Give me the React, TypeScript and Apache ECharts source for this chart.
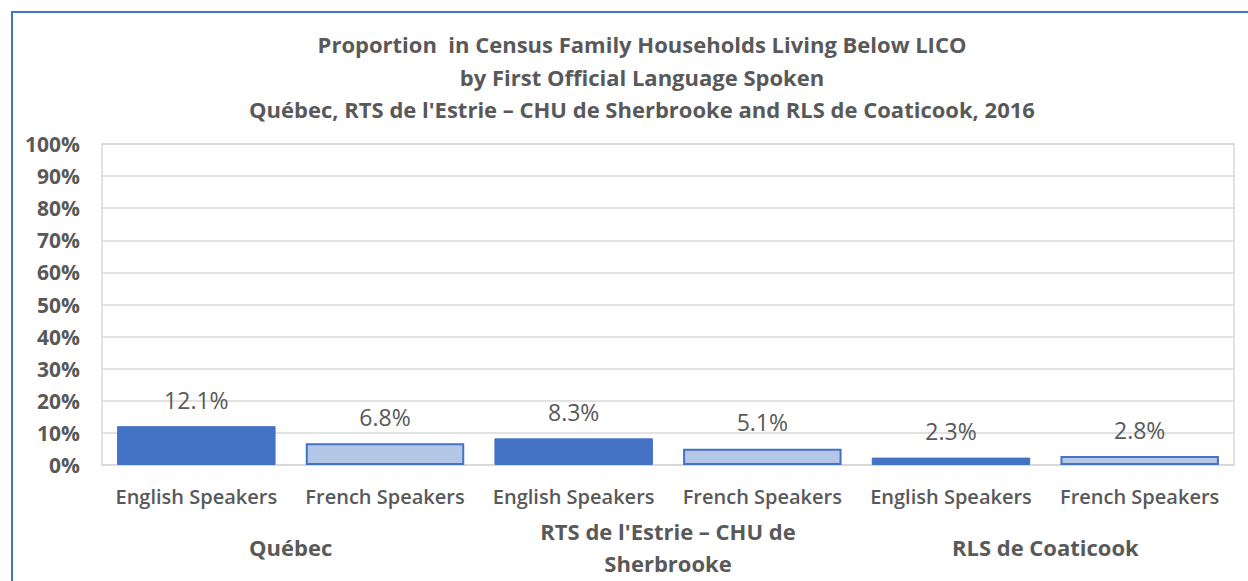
import React, { useEffect, useRef } from "react";
import * as echarts from "echarts";

const titleLines = [
  "Proportion  in Census Family Households Living Below LICO",
  "by First Official Language Spoken",
  "Québec, RTS de l'Estrie – CHU de Sherbrooke and RLS de Coaticook, 2016",
];
const regions = ["Québec", "RTS de l'Estrie – CHU de\nSherbrooke", "RLS de Coaticook"];
const languages = ["English Speakers", "French Speakers"];
const englishValues = [12.1, 8.3, 2.3];
const frenchValues = [6.8, 5.1, 2.8];
const yTicks = [0, 10, 20, 30, 40, 50, 60, 70, 80, 90, 100];

const FONT = "'Open Sans', sans-serif";
const GRAY = "#595959";

export default function App() {
  const ref = useRef<HTMLDivElement>(null);
  useEffect(() => {
    document.body.style.margin = "0";
    const chart = echarts.init(ref.current!, null, { renderer: "svg" });
    const cats: string[] = [];
    const data: any[] = [];
    regions.forEach((r, i) => {
      cats.push(languages[0]);
      data.push({
        value: englishValues[i],
        itemStyle: { color: "#4472C4", borderColor: "#4472C4", borderWidth: 1 },
      });
      cats.push(languages[1]);
      data.push({
        value: frenchValues[i],
        itemStyle: { color: "#B4C7E7", borderColor: "#4472C4", borderWidth: 2 },
      });
    });
    chart.setOption({
      animation: false,
      title: {
        text: titleLines.join("\n"),
        left: 637,
        top: 23,
        textAlign: "center",
        textStyle: {
          fontFamily: FONT,
          fontWeight: "bold",
          fontSize: 22,
          color: GRAY,
          lineHeight: 32.5,
        },
      },
      graphic: [
        {
          type: "rect",
          shape: { x: 12, y: 12, width: 1400, height: 700 },
          style: { fill: "none", stroke: "#4472C4", lineWidth: 2 },
          silent: true,
        },
      ],
      grid: {
        left: 102,
        right: 14,
        top: 144,
        bottom: 116,
        show: true,
        borderColor: "#D9D9D9",
        borderWidth: 1.5,
      },
      xAxis: [
        {
          type: "category",
          data: cats,
          position: "bottom",
          axisLine: { show: true, lineStyle: { color: "#D9D9D9", width: 1.5 } },
          axisTick: { show: false },
          axisLabel: {
            interval: 0,
            margin: 31,
            verticalAlign: "middle",
            fontFamily: FONT,
            fontSize: 20,
            color: GRAY,
            fontWeight: 600,
          },
        },
        {
          type: "category",
          data: regions,
          position: "bottom",
          axisLine: { show: false },
          axisTick: { show: false },
          axisLabel: {
            interval: 0,
            margin: 82,
            verticalAlign: "middle",
            fontFamily: FONT,
            fontSize: 22,
            fontWeight: "bold",
            color: GRAY,
            lineHeight: 32,
          },
        },
      ],
      yAxis: {
        type: "value",
        min: yTicks[0],
        max: yTicks[yTicks.length - 1],
        interval: 10,
        axisLine: { show: false },
        axisTick: { show: false },
        splitLine: { lineStyle: { color: "#D9D9D9", width: 1.5 } },
        axisLabel: {
          formatter: "{value}%",
          margin: 22,
          fontFamily: FONT,
          fontSize: 21,
          fontWeight: "bold",
          color: GRAY,
        },
      },
      series: [
        {
          type: "bar",
          xAxisIndex: 0,
          data,
          barWidth: "84%",
          label: {
            show: true,
            position: "top",
            distance: 15,
            formatter: (p: any) => `${p.value.toFixed(1)}%`,
            fontFamily: FONT,
            fontSize: 23,
            color: GRAY,
          },
        },
      ],
    });
    return () => chart.dispose();
  }, []);
  return <div ref={ref} style={{ width: 1248, height: 581 }} />;
}
